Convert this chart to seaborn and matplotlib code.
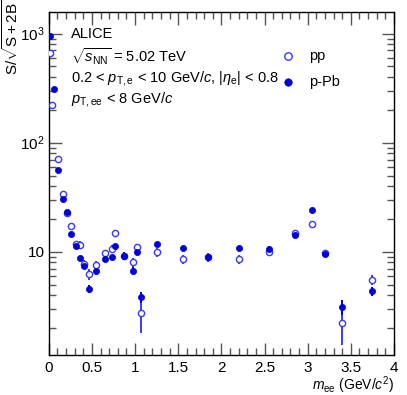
import numpy as np
import pandas as pd
import seaborn as sns
import matplotlib.pyplot as plt
from matplotlib.ticker import MultipleLocator, LogLocator, NullFormatter, FixedFormatter, FixedLocator

# pp data (open markers)
pp_mee = [0.01, 0.04, 0.11, 0.16, 0.21, 0.26, 0.31, 0.36, 0.41, 0.47, 0.55, 0.65, 0.73, 0.77,
          0.87, 0.97, 1.02, 1.07, 1.25, 1.55, 1.85, 2.2, 2.55, 2.85, 3.05, 3.2, 3.4, 3.75]
pp_sig = [660, 223, 71, 34, 22.6, 17.2, 11.8, 11.6, 7.8, 6.2, 7.55, 9.7, 10.7, 14.9,
          9.2, 8.0, 11.0, 2.74, 9.85, 8.57, 8.87, 8.57, 9.85, 15.0, 18.0, 9.7, 2.24, 5.57]
pp_err = [20, 8, 2.5, 1.2, 0.8, 0.7, 0.6, 1.0, 0.6, 0.7, 0.7, 0.7, 0.8, 0.9,
          0.8, 0.8, 0.9, 0.95, 0.9, 0.8, 0.8, 0.8, 0.7, 0.8, 0.9, 0.6, 0.85, 0.6]

# p-Pb data (filled markers)
ppb_mee = [0.01, 0.06, 0.11, 0.16, 0.21, 0.26, 0.31, 0.36, 0.41, 0.47, 0.55, 0.65, 0.73, 0.77,
           0.87, 0.97, 1.02, 1.07, 1.25, 1.55, 1.85, 2.2, 2.55, 2.85, 3.05, 3.2, 3.4, 3.75]
ppb_sig = [950, 313, 56.6, 30.6, 23.1, 14.7, 11.2, 8.75, 7.33, 4.55, 6.7, 8.57, 8.9, 11.2,
           9.2, 6.7, 9.85, 3.87, 11.9, 10.8, 8.87, 10.9, 10.7, 14.3, 23.9, 9.6, 3.13, 4.33]
ppb_err = [20, 8, 2, 1, 0.7, 0.6, 0.5, 0.4, 0.4, 0.4, 0.5, 0.5, 0.5, 0.5,
           0.7, 0.5, 0.5, 0.45, 0.5, 0.5, 0.6, 0.5, 0.5, 0.6, 0.8, 0.5, 0.5, 0.4]

df = pd.concat([
    pd.DataFrame({'mee': pp_mee, 'sig': pp_sig, 'err': pp_err, 'system': 'pp'}),
    pd.DataFrame({'mee': ppb_mee, 'sig': ppb_sig, 'err': ppb_err, 'system': 'p-Pb'}),
])

plt.rcParams['font.family'] = ['Liberation Sans', 'DejaVu Sans']
plt.rcParams['mathtext.fontset'] = 'custom'
plt.rcParams['mathtext.rm'] = 'Liberation Sans'
plt.rcParams['mathtext.it'] = 'Liberation Sans:italic'
plt.rcParams['mathtext.sf'] = 'Liberation Sans'

fig = plt.figure(figsize=(4.07, 3.95), dpi=100)
ax = fig.add_axes([0.120, 0.101, 0.848, 0.869])

blue = '#0000d8'
open_blue = '#3a3aff'

# error bars
for sys_name, col in [('pp', open_blue), ('p-Pb', blue)]:
    d = df[df.system == sys_name]
    ax.errorbar(d.mee, d.sig, yerr=d.err, fmt='none', ecolor=col, elinewidth=1.4, capsize=0, zorder=2)

sns.scatterplot(data=df[df.system == 'pp'], x='mee', y='sig', ax=ax, marker='o', s=20,
                facecolor='white', edgecolor=open_blue, linewidth=1.0, zorder=3, label='pp')
sns.scatterplot(data=df[df.system == 'p-Pb'], x='mee', y='sig', ax=ax, marker='o', s=20,
                color=blue, edgecolor=blue, linewidth=0.5, zorder=4, label='p-Pb')

ax.set_yscale('log')
ax.set_xlim(0, 4)
ax.set_ylim(1.13, 1580)

ax.set_xticks([0, 0.5, 1, 1.5, 2, 2.5, 3, 3.5, 4])
ax.set_xticklabels(['0', '0.5', '1', '1.5', '2', '2.5', '3', '3.5', '4'])
ax.xaxis.set_minor_locator(MultipleLocator(0.1))
ax.yaxis.set_major_locator(FixedLocator([10, 100, 1000]))
ax.yaxis.set_major_formatter(FixedFormatter(['10', r'$10^2$', r'$10^3$']))
ax.yaxis.set_minor_locator(LogLocator(base=10, subs=np.arange(2, 10), numticks=20))
ax.yaxis.set_minor_formatter(NullFormatter())

ax.tick_params(which='both', direction='in', top=True, right=True, bottom=True, left=True,
               labelsize=11, color='#555555')
ax.tick_params(which='major', length=9, width=1.0)
ax.tick_params(which='minor', length=5, width=1.0)
ax.tick_params(axis='x', pad=4)
ax.tick_params(axis='y', pad=3)
for sp in ax.spines.values():
    sp.set_color('black')
    sp.set_linewidth(1.0)

ax.set_xlabel(r'$m_{\rm ee}$ (GeV/$c^2$)', fontsize=10)
ax.xaxis.set_label_coords(1.0, -0.055)
ax.xaxis.label.set_ha('right')
ax.set_ylabel(r'S/$\sqrt{\rm S +2B}$', fontsize=11)
ax.yaxis.set_label_coords(-0.08, 1.035)
ax.yaxis.label.set_ha('right')

txt = [
    'ALICE',
    r'$\sqrt{s_{\rm NN}}$ = 5.02 TeV',
    r'0.2 < $p_{\rm T,e}$ < 10 GeV/$c$, |$\eta_{\rm e}$| < 0.8',
    r'$p_{\rm T,ee}$ < 8 GeV/$c$',
]
ys = [0.935, 0.87, 0.805, 0.745]
for t, yy in zip(txt, ys):
    ax.text(0.065, yy, t, transform=ax.transAxes, fontsize=10.5, va='center', ha='left')

leg = ax.legend(loc='upper right', bbox_to_anchor=(0.88, 0.93), frameon=False, fontsize=10.5,
                handletextpad=0.4, labelspacing=0.8, markerscale=1.2)

fig.savefig('out.png', dpi=100)
